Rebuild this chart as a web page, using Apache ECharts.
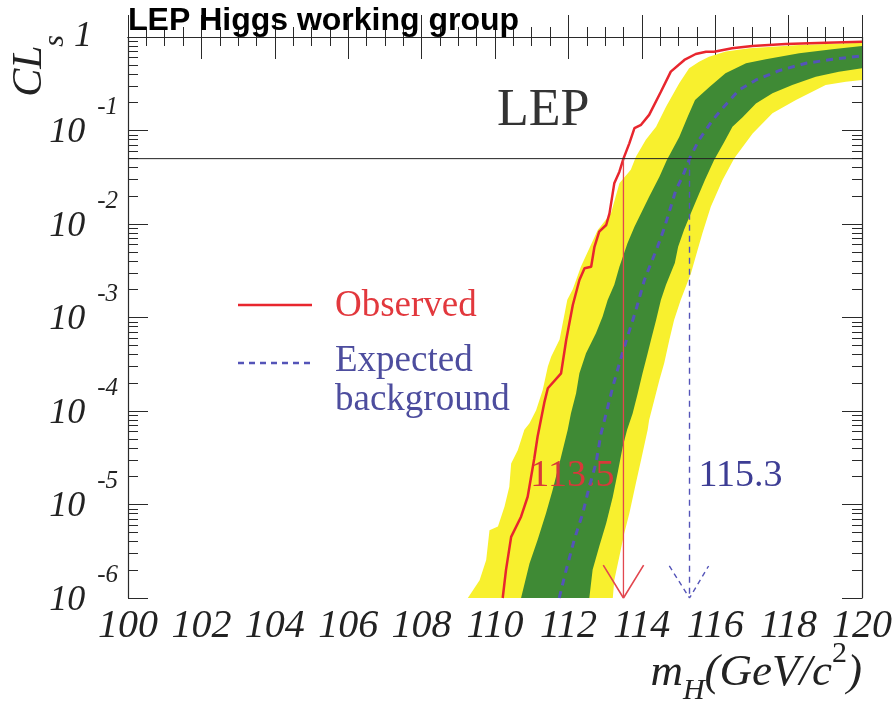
<!DOCTYPE html>
<html><head><meta charset="utf-8">
<script src="https://cdn.jsdelivr.net/npm/echarts@6/dist/echarts.min.js"></script>
<style>html,body{margin:0;padding:0;background:#fff}#c{width:895px;height:707px}</style>
</head><body><div id="c"></div>
<script>
// ---- data (mass in GeV/c^2, CLs) ----
const obsMass = [110.21,110.30,110.44,110.71,110.89,111.07,111.16,111.35,111.44,111.80,111.94,112.12,112.30,112.44,112.62,112.71,112.84,113.03,113.12,113.25,113.39,113.50,113.66,113.80,113.98,114.20,114.52,114.79,115.16,115.47,115.75,115.97,116.46,117.01,117.92,119.01,120.00];
const obsCLs  = [1.0e-6,2.0e-6,4.5e-6,7.4e-6,1.21e-5,3.1e-5,5.3e-5,1.26e-4,1.75e-4,2.53e-4,5.75e-4,1.36e-3,2.52e-3,3.36e-3,3.49e-3,5.71e-3,8.28e-3,9.75e-3,0.0130,0.0272,0.0363,0.050,0.0729,0.106,0.115,0.147,0.260,0.426,0.568,0.658,0.697,0.697,0.757,0.802,0.841,0.869,0.891];

const expMass = [111.75,111.94,112.16,112.39,112.57,112.75,112.89,113.03,113.21,113.43,113.61,113.84,114.07,114.25,114.43,114.61,114.79,114.93,115.11,115.30,115.56,115.93,116.20,116.65,117.11,117.74,118.47,119.19,120.00];
const expCLs  = [1.0e-6,2.0e-6,4.2e-6,8.05e-6,1.55e-5,2.75e-5,5.75e-5,9.44e-5,1.82e-4,3.66e-4,6.24e-4,1.20e-3,2.51e-3,3.80e-3,5.71e-3,8.99e-3,0.0153,0.0231,0.0321,0.050,0.0794,0.129,0.173,0.271,0.347,0.437,0.524,0.577,0.627];

// +-1 sigma band edges
const sig1UpMass = [110.71,110.94,111.16,111.39,111.57,111.80,111.98,112.07,112.21,112.30,112.48,112.75,112.93,113.07,113.25,113.39,113.61,113.80,113.98,114.20,114.48,114.68,115.02,115.25,115.45,115.85,116.28,116.84,117.38,118.29,119.19,120.00];
const sig1UpCLs  = [1.0e-6,2.34e-6,4.17e-6,8.05e-6,1.43e-5,3.24e-5,6.27e-5,9.44e-5,1.55e-4,2.53e-4,4.14e-4,6.78e-4,1.02e-3,1.54e-3,2.24e-3,3.49e-3,6.22e-3,9.35e-3,0.0130,0.0196,0.0321,0.048,0.085,0.140,0.212,0.294,0.409,0.524,0.578,0.670,0.738,0.801];
const sig1LoMass = [112.57,112.66,112.84,113.03,113.21,113.34,113.48,113.60,113.75,113.89,114.02,114.16,114.25,114.39,114.52,114.66,114.90,114.99,115.15,115.30,115.50,115.72,115.97,116.25,116.47,116.74,117.11,117.56,118.10,118.74,119.37,120.00];
const sig1LoCLs  = [1.0e-6,2.0e-6,3.55e-6,6.3e-6,1.21e-5,2.16e-5,4.15e-5,6.3e-5,9.4e-5,1.55e-4,2.53e-4,4.14e-4,5.75e-4,9.4e-4,1.54e-3,2.24e-3,3.83e-3,5.7e-3,8.6e-3,0.0120,0.0185,0.0296,0.0483,0.0759,0.110,0.138,0.195,0.250,0.307,0.376,0.426,0.462];

// +-2 sigma band edges
const sig2UpMass = [109.26,109.58,109.76,109.85,110.08,110.26,110.39,110.44,110.62,110.80,110.94,111.12,111.30,111.44,111.53,111.76,111.97,112.12,112.34,112.80,113.16,113.39,113.70,113.84,114.11,114.39,114.66,115.02,115.29,115.56,115.83,116.29,116.93,118.29,120.00];
const sig2UpCLs  = [1.0e-6,1.55e-6,2.55e-6,5.3e-6,5.8e-6,9.5e-6,1.55e-5,2.75e-5,3.8e-5,6.3e-5,7.4e-5,1.02e-4,1.68e-4,3.0e-4,3.8e-4,5.8e-4,1.55e-3,2.0e-3,3.5e-3,8.6e-3,0.0130,0.0272,0.038,0.0525,0.0794,0.110,0.180,0.320,0.462,0.545,0.616,0.700,0.757,0.821,0.869];
const sig2LoMass = [113.21,113.25,113.39,113.52,113.66,113.84,113.98,114.16,114.20,114.34,114.48,114.61,114.75,114.88,115.06,115.34,115.52,115.65,115.88,116.20,116.52,117.02,117.56,118.20,119.01,119.56,120.00];
const sig2LoCLs  = [1.0e-6,1.55e-6,2.8e-6,4.9e-6,8.0e-6,1.7e-5,3.0e-5,6.3e-5,8.0e-5,1.31e-4,2.15e-4,3.24e-4,5.75e-4,9.4e-4,1.54e-3,2.97e-3,5.27e-3,7.9e-3,0.0153,0.0296,0.0505,0.093,0.153,0.212,0.307,0.333,0.347];

// limits
const clLevel = 0.05;
const obsLimit = 113.5;
const expLimit = 115.3;
const limitLabelCLs = 2.0e-5;
const redArrow  = [[112.95, 2.25e-6], [113.5, 1.0e-6], [114.05, 2.25e-6]];
const blueArrow = [[114.75, 2.2e-6], [115.3, 1.0e-6], [115.82, 2.2e-6]];

// axes
const xMin = 100, xMax = 120, xStep = 2;
const yMin = 1e-6, yMax = 1;
const yMinorLog = [];
for (let d = -6; d < 0; d++) for (let k = 2; k <= 9; k++) yMinorLog.push(d + Math.log10(k));

// ---- styles ----
const COL = {yellow:'#f8f02e', green:'#3f8a35', red:'#e8262e', blue:'#5454b8', axis:'#2a2a2a', txt:'#222'};
const serif = '"Liberation Serif", "Times New Roman", serif';
const zip = (a, b) => a.map((v, i) => [v, b[i]]);

function band(upM, upC, loM, loC, color) {
  return {
    type: 'custom', xAxisIndex: 0, yAxisIndex: 0, clip: true, silent: true,
    data: [[110, 1e-3]],
    renderItem: (params, api) => {
      const pts = [];
      for (let i = 0; i < upM.length; i++) pts.push(api.coord([upM[i], upC[i]]));
      for (let i = loM.length - 1; i >= 0; i--) pts.push(api.coord([loM[i], loC[i]]));
      return {type: 'polygon', shape: {points: pts}, style: {fill: color}};
    }
  };
}
function line(data, color, width, type, extra) {
  return Object.assign({
    type: 'line', xAxisIndex: 0, yAxisIndex: 0, data, showSymbol: false, symbol: 'none',
    silent: true, clip: true, animation: false,
    lineStyle: {color, width, type: type || 'solid'}
  }, extra || {});
}

const tickLine = {lineStyle: {color: COL.axis, width: 1}};
const chart = echarts.init(document.getElementById('c'), null, {renderer: 'canvas'});
chart.setOption({
  animation: false,
  backgroundColor: '#fff',
  grid: {left: 128, right: 32, top: 37, bottom: 109, containLabel: false},
  xAxis: [
    {type: 'value', min: xMin, max: xMax, interval: xStep, position: 'bottom',
     axisLine: {show: true, lineStyle: {color: COL.axis, width: 1.2}},
     axisTick: Object.assign({show: true, inside: true, length: 22}, tickLine),
     minorTick: Object.assign({show: true, splitNumber: 4, length: 10}, tickLine),
     splitLine: {show: false},
     axisLabel: {margin: 8, fontFamily: serif, fontStyle: 'italic', fontSize: 40, color: COL.txt}},
    {type: 'value', min: xMin, max: xMax, interval: xStep, position: 'top',
     axisLine: {show: true, lineStyle: {color: COL.axis, width: 1.2}},
     axisTick: Object.assign({show: true, inside: true, length: 22}, tickLine),
     minorTick: Object.assign({show: true, splitNumber: 4, length: 9}, tickLine),
     splitLine: {show: false}, axisLabel: {show: false}}
  ],
  yAxis: [
    {type: 'log', logBase: 10, min: yMin, max: yMax, splitNumber: 6, position: 'left',
     axisLine: {show: true, lineStyle: {color: COL.axis, width: 1.2}},
     axisTick: Object.assign({show: true, inside: true, length: 20}, tickLine),
     splitLine: {show: false},
     axisLabel: {
       margin: 10,
       formatter: v => { const e = Math.round(Math.log10(v)); return e === 0 ? '{one|1}' : '{b|10}{s|' + e + '}'; },
       rich: {
         b: {fontFamily: serif, fontStyle: 'italic', fontSize: 36, height: 36, padding: [20, 12, 15, 0], verticalAlign: 'bottom', color: COL.txt},
         s: {fontFamily: serif, fontStyle: 'italic', fontSize: 25, height: 25, verticalAlign: 'top', color: COL.txt},
         one: {fontFamily: serif, fontStyle: 'italic', fontSize: 36, height: 36, padding: [0, 26, 0, 0], color: COL.txt}
       }
     }},
    {type: 'value', min: -6, max: 0, interval: 1, position: 'left',
     axisLine: {show: false},
     axisTick: Object.assign({show: true, inside: true, length: 10, customValues: yMinorLog}, tickLine),
     splitLine: {show: false}, axisLabel: {show: false}},
    {type: 'value', min: -6, max: 0, interval: 1, position: 'right',
     axisLine: {show: true, lineStyle: {color: COL.axis, width: 1.2}},
     axisTick: Object.assign({show: true, inside: true, length: 20}, tickLine),
     splitLine: {show: false}, axisLabel: {show: false}},
    {type: 'value', min: -6, max: 0, interval: 1, position: 'right',
     axisLine: {show: false},
     axisTick: Object.assign({show: true, inside: true, length: 10, customValues: yMinorLog}, tickLine),
     splitLine: {show: false}, axisLabel: {show: false}}
  ],
  series: [
    band(sig2UpMass, sig2UpCLs, sig2LoMass, sig2LoCLs, COL.yellow),
    line([[expLimit, clLevel], [expLimit, yMin]], COL.blue, 1.4, [6, 5]),
    line(blueArrow, COL.blue, 1.4, [5, 4]),
    band(sig1UpMass, sig1UpCLs, sig1LoMass, sig1LoCLs, COL.green),
    line(zip(expMass, expCLs), COL.blue, 3, [7, 6]),
    line(zip(obsMass, obsCLs), COL.red, 2.5),
    line([[obsLimit, clLevel], [obsLimit, yMin]], '#e2474f', 1.3),
    line(redArrow, '#e2474f', 1.6),
    line([[xMin, clLevel], [xMax, clLevel]], '#222', 1),
    {type: 'scatter', xAxisIndex: 0, yAxisIndex: 0, silent: true, symbolSize: 0,
     itemStyle: {color: '#888', opacity: 1},
     data: [{value: [obsLimit, limitLabelCLs], label: {position: 'left', color: '#d8393a'}},
            {value: [expLimit, limitLabelCLs], label: {position: 'right', color: '#3d3d94'}}],
     label: {show: true, distance: 9, fontFamily: serif, fontSize: 38, opacity: 1,
             textBorderWidth: 0, formatter: p => p.value[0].toFixed(1)}}
  ],
  graphic: [
    {type: 'text', x: 128, y: 21, z: 100,
     style: {text: 'LEP Higgs working group', font: 'bold 32px "Liberation Sans", Arial, sans-serif', fill: '#000', align: 'left', verticalAlign: 'middle'}},
    {type: 'text', x: 30, y: 71, rotation: Math.PI / 2,
     style: {text: 'CL', font: 'italic 42px ' + serif, fill: COL.txt, align: 'center', verticalAlign: 'middle'}},
    {type: 'text', x: 55, y: 41, rotation: Math.PI / 2,
     style: {text: 's', font: 'italic 30px ' + serif, fill: COL.txt, align: 'center', verticalAlign: 'middle'}},
    {type: 'text', x: 862, y: 673,
     style: {text: '{a|m}{sub|H}{a|(GeV/c}{sup|2}{a|)}', align: 'right', verticalAlign: 'middle',
       rich: {
         a: {fontFamily: serif, fontStyle: 'italic', fontSize: 45, height: 45, padding: [11, 0, 11, 0], fill: COL.txt},
         sub: {fontFamily: serif, fontStyle: 'italic', fontSize: 30, height: 30, verticalAlign: 'bottom', fill: COL.txt},
         sup: {fontFamily: serif, fontSize: 30, height: 30, verticalAlign: 'top', fill: COL.txt}
       }}},
    {type: 'text', x: 497, y: 111,
     style: {text: 'LEP', font: '52px ' + serif, fill: '#333', align: 'left', verticalAlign: 'middle'}},
    {type: 'line', shape: {x1: 238, y1: 305, x2: 312, y2: 305}, style: {stroke: COL.red, lineWidth: 2.5}},
    {type: 'text', x: 335, y: 306,
     style: {text: 'Observed', font: '37px ' + serif, fill: '#e2383d', align: 'left', verticalAlign: 'middle'}},
    {type: 'line', shape: {x1: 238, y1: 363, x2: 312, y2: 363}, style: {stroke: COL.blue, lineWidth: 2.5, lineDash: [6, 5]}},
    {type: 'text', x: 335, y: 361,
     style: {text: 'Expected', font: '37px ' + serif, fill: '#4d4d9e', align: 'left', verticalAlign: 'middle'}},
    {type: 'text', x: 335, y: 400,
     style: {text: 'background', font: '37px ' + serif, fill: '#4d4d9e', align: 'left', verticalAlign: 'middle'}}
  ]
});
</script>
</body></html>
